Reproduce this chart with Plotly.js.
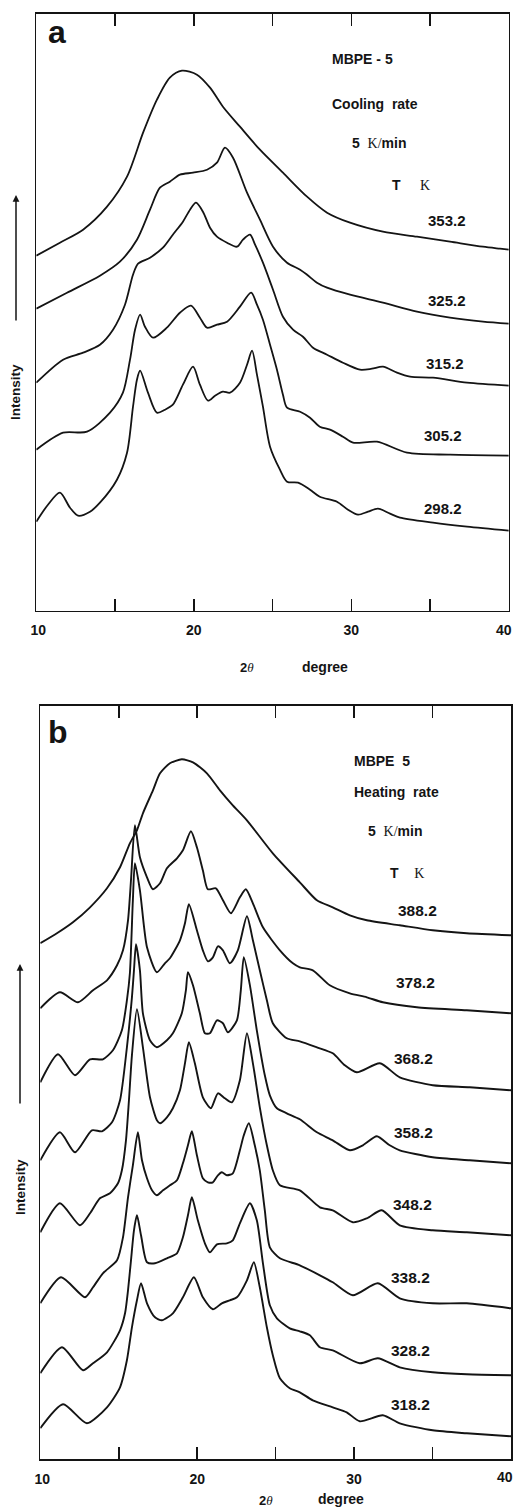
<!DOCTYPE html>
<html>
<head>
<meta charset="utf-8">
<script src="https://cdn.plot.ly/plotly-3.0.1.min.js"></script>
<style>html,body{margin:0;padding:0;background:#fff;}#chart{width:515px;height:1507px;}</style>
</head>
<body>
<div id="chart"></div>
<script>
// ---------- DATA (2θ in degree, intensity in arbitrary units, offset curves) ----------
// Panel a : MBPE-5, cooling 5 K/min
const tempsA = ['353.2', '325.2', '315.2', '305.2', '298.2'];
const a353_x = [10, 11.5, 12.97, 14.49, 15.76, 16.78, 17.66, 18.48, 19.25, 20.2, 21.03, 21.85, 22.93, 24.2, 25.66, 27.19, 28.46, 29.92, 32.01, 34.17, 36.27, 38.36, 39.44, 40];
const a353_y = [355, 368, 381, 404, 434, 478, 511, 533, 540, 536, 523, 504, 484, 461, 438, 414, 398, 388, 379, 374, 369, 364, 362, 361];
const a325_x = [10, 11.95, 14.04, 15.31, 16.39, 17.22, 17.85, 18.48, 19.12, 19.95, 20.84, 21.47, 21.98, 22.49, 23.38, 24.2, 25.03, 25.92, 26.75, 27.19, 27.82, 28.46, 29.92, 32.01, 34.17, 36.27, 38.36, 40];
const a325_y = [302, 318, 335, 349, 371, 401, 423, 429, 436, 438, 441, 448, 463, 453, 418, 391, 364, 348, 341, 336, 328, 323, 316, 308, 299, 293, 289, 287];
const a315_x = [10, 11.7, 12.97, 14.04, 14.87, 15.63, 16.14, 16.46, 17.22, 18.04, 18.67, 19.31, 19.76, 20.14, 20.58, 21.03, 21.47, 22.11, 22.74, 23.12, 23.57, 23.89, 24.39, 25.03, 25.66, 26.3, 26.93, 27.57, 28.46, 29.47, 30.55, 31.31, 32.01, 32.9, 33.73, 35.19, 37.35, 40];
const a315_y = [228, 251, 258, 266, 281, 306, 336, 347, 353, 363, 376, 389, 401, 408, 399, 383, 374, 368, 364, 371, 376, 366, 348, 321, 294, 281, 274, 263, 256, 248, 241, 242, 244, 238, 234, 233, 228, 225];
const a305_x = [10, 11.7, 13.22, 14.68, 15.5, 15.95, 16.27, 16.59, 16.9, 17.41, 18.29, 19.12, 19.82, 20.39, 20.84, 21.47, 22.11, 22.93, 23.64, 24.01, 24.39, 24.84, 25.28, 25.66, 25.92, 26.75, 27.38, 28.0, 28.65, 29.47, 30.11, 31.63, 33.54, 36.27, 40];
const a305_y = [161, 178, 179, 198, 218, 251, 281, 296, 284, 273, 283, 298, 305, 293, 283, 286, 289, 304, 318, 306, 291, 266, 241, 216, 203, 199, 193, 184, 181, 174, 168, 169, 158, 156, 155];
const a298_x = [10, 10.74, 11.5, 12.14, 12.65, 13.41, 14.04, 15.12, 15.76, 16.14, 16.39, 16.59, 17.09, 17.66, 18.17, 18.67, 19.31, 19.95, 20.39, 20.9, 21.35, 21.85, 22.3, 22.93, 23.38, 23.7, 24.01, 24.39, 24.84, 25.47, 25.92, 26.62, 27.38, 28.0, 29.09, 29.79, 30.43, 31.06, 31.69, 32.46, 33.09, 35.19, 37.35, 40];
const a298_y = [89, 106, 118, 103, 95, 99, 108, 131, 158, 204, 231, 240, 218, 198, 201, 206, 226, 244, 226, 210, 215, 219, 218, 228, 246, 260, 236, 204, 164, 141, 129, 128, 121, 114, 109, 101, 96, 99, 102, 97, 93, 88, 84, 80];

// Panel b : MBPE 5, heating 5 K/min
const tempsB = ['388.2', '378.2', '368.2', '358.2', '348.2', '338.2', '328.2', '318.2'];
const b388_x = [10, 11.06, 12.08, 13.17, 14.25, 15.08, 15.71, 16.16, 16.54, 17.18, 17.63, 18.26, 19.02, 19.73, 20.62, 21.45, 22.27, 23.17, 24.82, 26.54, 27.63, 28.64, 29.73, 30.81, 32.91, 35.01, 37.18, 40];
const b388_y = [516, 526, 537, 552, 571, 592, 616, 629, 646, 669, 686, 696, 700, 697, 686, 669, 654, 639, 606, 577, 559, 552, 544, 539, 534, 529, 526, 524];
const b378_x = [10, 11.25, 12.40, 13.36, 14.25, 14.89, 15.27, 15.59, 15.78, 16.03, 16.35, 16.80, 17.18, 17.63, 18.07, 18.71, 19.09, 19.60, 19.98, 20.36, 20.68, 21.19, 21.64, 22.15, 22.72, 23.10, 23.55, 24.19, 25.27, 26.10, 26.54, 27.37, 28.45, 29.73, 30.81, 31.83, 34.0, 37.18, 40];
const b378_y = [451, 467, 457, 469, 479, 494, 509, 539, 579, 634, 602, 582, 570, 576, 591, 601, 609, 628, 612, 589, 570, 571, 559, 546, 562, 570, 556, 532, 509, 496, 492, 489, 474, 466, 462, 457, 452, 449, 446];
const b368_x = [10, 11.13, 12.21, 13.17, 13.99, 14.63, 15.20, 15.52, 15.71, 15.90, 16.03, 16.35, 16.80, 17.43, 17.94, 18.26, 18.90, 19.22, 19.47, 19.98, 20.36, 20.68, 21.0, 21.32, 21.64, 22.08, 22.59, 23.17, 23.55, 23.99, 24.44, 24.82, 25.71, 26.54, 27.63, 28.64, 29.41, 30.17, 31.64, 32.91, 35.01, 37.37, 40];
const b368_y = [377, 405, 384, 400, 400, 409, 429, 459, 486, 559, 596, 569, 512, 487, 496, 501, 519, 536, 555, 529, 509, 498, 502, 513, 509, 496, 509, 543, 519, 489, 459, 436, 421, 418, 412, 406, 394, 387, 396, 382, 374, 372, 369];
const b358_x = [10, 11.25, 12.21, 13.29, 13.93, 14.57, 15.08, 15.52, 15.84, 15.97, 16.10, 16.35, 16.54, 16.99, 17.43, 18.07, 18.45, 19.02, 19.28, 19.41, 19.73, 20.17, 20.49, 20.81, 21.26, 21.64, 21.96, 22.53, 22.78, 22.97, 23.36, 23.80, 24.31, 24.63, 25.08, 25.71, 26.54, 27.63, 28.64, 29.73, 30.56, 31.45, 32.27, 32.91, 35.01, 37.37, 40];
const b358_y = [299, 327, 307, 329, 328, 337, 359, 412, 462, 489, 515, 489, 446, 419, 412, 419, 426, 446, 469, 487, 474, 446, 426, 426, 439, 436, 427, 439, 469, 502, 474, 429, 384, 364, 351, 346, 340, 327, 319, 309, 314, 323, 314, 309, 302, 299, 296];
const b348_x = [10, 11.25, 12.53, 13.17, 13.80, 14.44, 14.95, 15.20, 15.46, 15.65, 15.84, 16.16, 16.54, 16.99, 17.43, 17.63, 18.07, 18.45, 18.90, 19.22, 19.47, 19.85, 20.36, 20.87, 21.32, 21.76, 22.21, 22.72, 23.17, 23.55, 23.99, 24.44, 24.82, 25.27, 26.54, 27.82, 28.64, 29.92, 30.81, 31.76, 32.91, 35.01, 37.18, 40];
const b348_y = [227, 256, 234, 246, 261, 266, 276, 289, 319, 359, 404, 450, 412, 362, 339, 336, 342, 351, 369, 396, 417, 396, 362, 351, 366, 361, 357, 379, 426, 396, 352, 314, 289, 274, 269, 252, 249, 237, 241, 249, 234, 229, 227, 224];
const b338_x = [10, 11.32, 12.85, 13.36, 13.99, 14.89, 15.27, 15.59, 15.90, 16.22, 16.48, 16.80, 17.12, 17.43, 17.82, 18.26, 18.71, 19.09, 19.41, 19.66, 19.98, 20.36, 20.68, 21.0, 21.32, 21.57, 21.89, 22.27, 22.72, 22.97, 23.29, 23.67, 23.99, 24.31, 24.63, 25.27, 26.54, 27.82, 28.64, 29.92, 31.51, 32.91, 35.01, 37.18, 40];
const b338_y = [156, 182, 162, 172, 186, 199, 222, 262, 294, 327, 299, 281, 269, 264, 269, 274, 279, 296, 314, 328, 304, 281, 277, 277, 284, 287, 284, 286, 309, 324, 336, 314, 289, 249, 212, 201, 194, 184, 177, 164, 176, 161, 156, 156, 151];
const b328_x = [10, 11.38, 12.72, 13.36, 14.25, 15.08, 15.40, 15.59, 15.78, 15.97, 16.16, 16.42, 16.80, 17.31, 18.07, 18.71, 19.09, 19.41, 19.66, 20.04, 20.49, 20.81, 21.26, 21.89, 22.27, 22.72, 23.36, 23.80, 24.19, 24.63, 25.08, 25.90, 26.54, 27.18, 27.82, 28.64, 30.36, 31.51, 32.91, 35.01, 37.18, 40];
const b328_y = [86, 112, 89, 96, 107, 129, 146, 169, 199, 229, 244, 224, 197, 196, 201, 206, 222, 244, 262, 239, 216, 207, 215, 216, 219, 236, 256, 239, 196, 154, 141, 131, 128, 124, 112, 109, 96, 101, 92, 87, 85, 84];
const b318_x = [10, 11.45, 12.97, 14.25, 15.08, 15.52, 15.84, 16.16, 16.42, 16.80, 17.31, 17.75, 18.45, 19.09, 19.79, 20.36, 21.0, 21.57, 22.08, 22.53, 23.17, 23.61, 23.99, 24.44, 24.82, 25.27, 25.90, 26.54, 27.37, 28.64, 29.53, 30.36, 31.83, 32.91, 35.01, 37.18, 40];
const b318_y = [31, 55, 36, 52, 72, 99, 132, 159, 176, 156, 142, 139, 146, 162, 182, 162, 150, 156, 159, 162, 179, 197, 172, 132, 104, 81, 71, 67, 59, 52, 47, 38, 44, 36, 29, 26, 23];

const xTickVals = [10, 15, 20, 25, 30, 35, 40];
const xTickText = ['\u00a010', '', '20', '', '30', '', ''];
const lastTickLabel = '40';   // drawn separately so it stays inside the page

// ---------- CHART ----------
const W = 515, H = 1507;
const INK = '#141414';
const SANS = 'Liberation Sans, Arial, Helvetica, sans-serif';
const SERIF = 'Liberation Serif';
const P = (px, py) => ({x: px / W, y: 1 - py / H});

const seriesA = [[a353_x, a353_y], [a325_x, a325_y], [a315_x, a315_y], [a305_x, a305_y], [a298_x, a298_y]];
const seriesB = [[b388_x, b388_y], [b378_x, b378_y], [b368_x, b368_y], [b358_x, b358_y], [b348_x, b348_y], [b338_x, b338_y], [b328_x, b328_y], [b318_x, b318_y]];

const traces = [];
seriesA.forEach((s, i) => traces.push({
  x: s[0], y: s[1], xaxis: 'x', yaxis: 'y', type: 'scatter', mode: 'lines', name: tempsA[i] + ' K',
  line: {color: INK, width: 1.8, shape: 'spline', smoothing: 0.8}, hoverinfo: 'skip'
}));
seriesB.forEach((s, i) => traces.push({
  x: s[0], y: s[1], xaxis: 'x2', yaxis: 'y2', type: 'scatter', mode: 'lines', name: tempsB[i] + ' K',
  line: {color: INK, width: 1.9, shape: 'spline', smoothing: 0.65}, hoverinfo: 'skip'
}));

const xCommon = {
  range: [10, 40], tickmode: 'array', tickvals: xTickVals, ticktext: xTickText,
  ticks: 'inside', ticklen: 12, tickwidth: 1.5, tickcolor: INK,
  showline: true, linecolor: INK, linewidth: 1.6, mirror: 'ticks',
  showgrid: false, zeroline: false, fixedrange: true,
  tickfont: {family: SANS, size: 14, color: INK, weight: 'bold'}, ticklabelstandoff: 6
};
const yCommon = {
  showline: true, linecolor: INK, linewidth: 1.6, mirror: true, ticks: '',
  showticklabels: false, showgrid: false, zeroline: false, fixedrange: true
};

const layout = {
  width: W, height: H, margin: {l: 0, r: 0, t: 0, b: 0},
  paper_bgcolor: '#fff', plot_bgcolor: '#fff', showlegend: false,
  xaxis: Object.assign({}, xCommon, {domain: [36.3 / W, 508.8 / W], anchor: 'y'}),
  yaxis: Object.assign({}, yCommon, {range: [0, 596.7], domain: [1 - 610.7 / H, 1 - 14 / H], anchor: 'x'}),
  xaxis2: Object.assign({}, xCommon, {domain: [40.3 / W, 511 / W], anchor: 'y2'}),
  yaxis2: Object.assign({}, yCommon, {range: [0, 753.3], domain: [1 - 1459.3 / H, 1 - 706 / H], anchor: 'x2'}),
  annotations: []
};

const ann = layout.annotations;
function txt(px, py, text, size, opts) {
  const p = P(px, py);
  ann.push(Object.assign({
    xref: 'paper', yref: 'paper', x: p.x, y: p.y, text: text, showarrow: false,
    xanchor: 'center', yanchor: 'middle',
    font: {family: SANS, size: size, color: INK, weight: 'bold'}
  }, opts || {}));
}
const kSpan = '<span style="font-family:' + SERIF + ';font-weight:normal">K</span>';
const kSlash = '<span style="font-family:' + SERIF + ';font-weight:normal">K/</span>';
const theta = '<span style="font-family:' + SERIF + ';font-style:italic;font-weight:normal">θ</span>';

// last x tick label (40) of each panel
txt(504, 630, lastTickLabel, 14);
txt(505, 1477, lastTickLabel, 14);

// panel letters
txt(57, 32, 'a', 32);
txt(58, 732, 'b', 32);

// panel a texts
txt(330, 59, 'MBPE - 5', 14, {xanchor: 'left'});
txt(330, 104, 'Cooling\u00a0\u00a0rate', 14, {xanchor: 'left'});
txt(350, 143, '5\u00a0\u00a0' + kSlash + 'min', 14, {xanchor: 'left'});
txt(390, 185, 'T\u00a0\u00a0\u00a0\u00a0\u00a0' + kSpan, 14, {xanchor: 'left'});
const labA = [[447, 220], [447, 300], [445, 363], [443, 435], [443, 508]];
tempsA.forEach((t, i) => txt(labA[i][0], labA[i][1], t, 15));

// panel b texts
txt(352, 761, 'MBPE\u00a0\u00a05', 14, {xanchor: 'left'});
txt(352, 792, 'Heating\u00a0\u00a0rate', 14, {xanchor: 'left'});
txt(366, 831, '5\u00a0\u00a0' + kSlash + 'min', 14, {xanchor: 'left'});
txt(388, 873, 'T\u00a0\u00a0\u00a0\u00a0' + kSpan, 14, {xanchor: 'left'});
const labB = [[417, 910], [415, 982], [413, 1058], [413, 1132], [412, 1204], [410, 1277], [410, 1350], [410, 1404]];
tempsB.forEach((t, i) => txt(labB[i][0], labB[i][1], t, 15.5));

// axis titles
txt(247, 667, '2' + theta, 13);
txt(325, 667, 'degree', 14);
txt(266, 1500, '2' + theta, 13);
txt(341, 1499, 'degree', 14);

// intensity labels and arrows
txt(16, 392, 'Intensity', 13.5, {textangle: -90});
txt(20, 1187, 'Intensity', 13.5, {textangle: -90});
[[16, 195, 127], [20, 964, 141]].forEach(a => {
  const p = P(a[0], a[1]);
  ann.push({xref: 'paper', yref: 'paper', x: p.x, y: p.y, ax: 0, ay: a[2], text: '',
    showarrow: true, arrowhead: 2, arrowsize: 0.9, arrowwidth: 1.5, arrowcolor: INK, standoff: 0});
});

Plotly.newPlot('chart', traces, layout, {staticPlot: true, displayModeBar: false});
</script>
</body>
</html>
